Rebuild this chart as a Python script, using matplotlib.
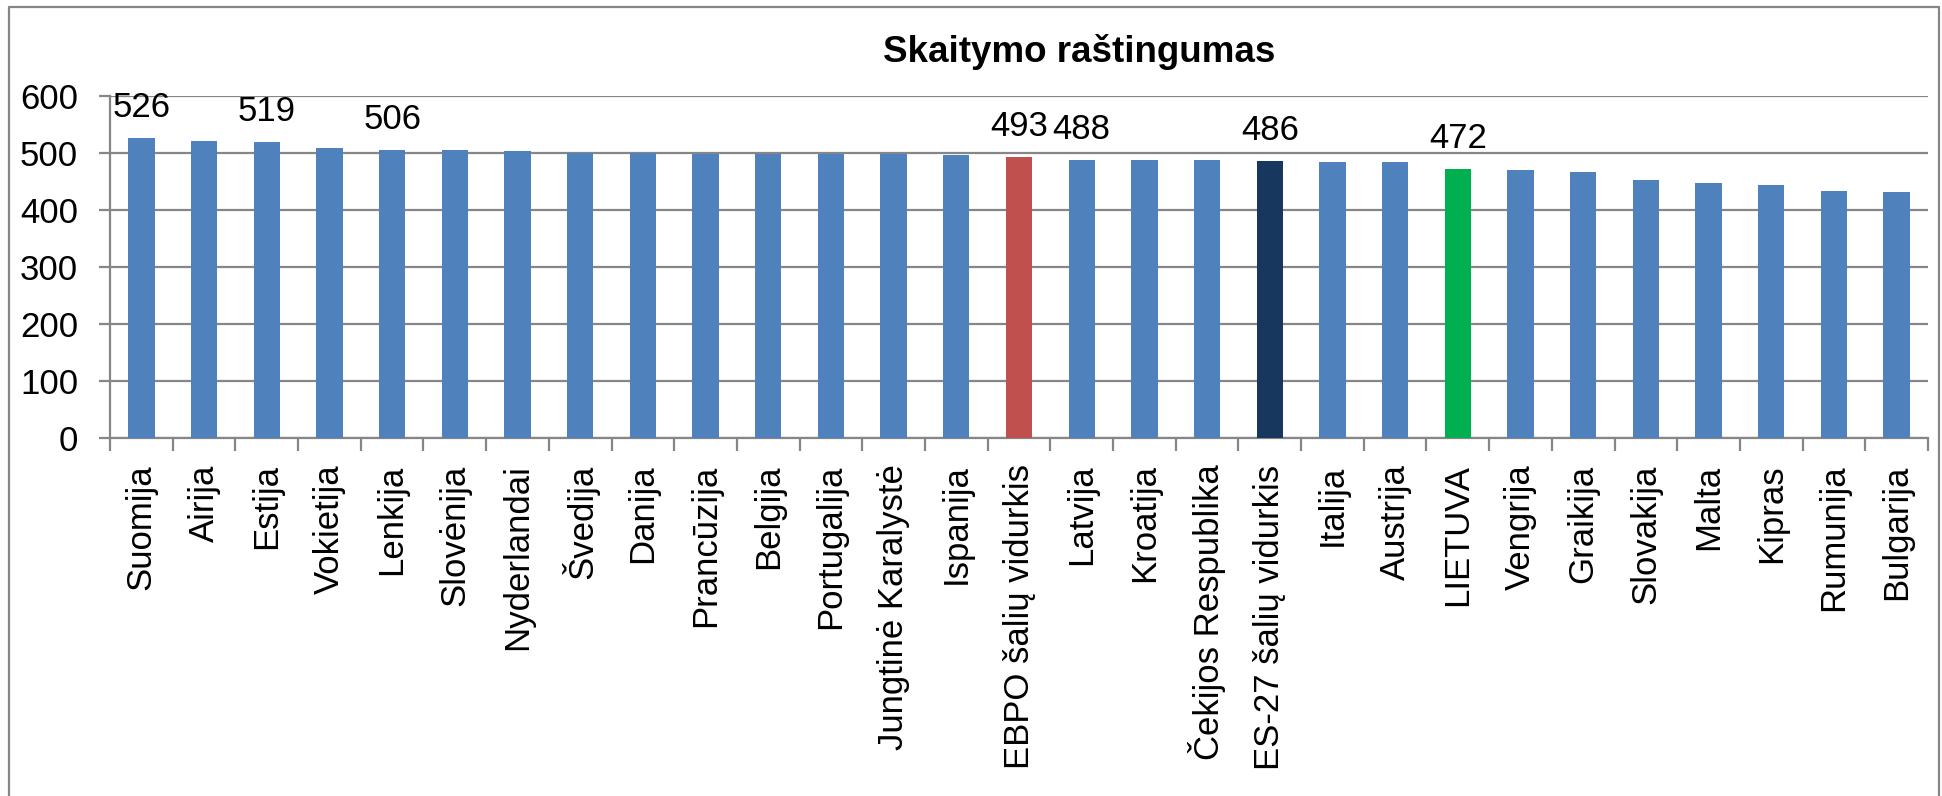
import numpy as np
import matplotlib
matplotlib.use("Agg")
import matplotlib.pyplot as plt
from matplotlib.lines import Line2D

plt.rcParams['font.family'] = ['Liberation Sans', 'DejaVu Sans']

# data
countries = ["Suomija", "Airija", "Estija", "Vokietija", "Lenkija", "Slovėnija",
             "Nyderlandai", "Švedija", "Danija", "Prancūzija", "Belgija", "Portugalija",
             "Jungtinė Karalystė", "Ispanija", "EBPO šalių vidurkis", "Latvija", "Kroatija",
             "Čekijos Respublika", "ES-27 šalių vidurkis", "Italija", "Austrija", "LIETUVA",
             "Vengrija", "Graikija", "Slovakija", "Malta", "Kipras", "Rumunija", "Bulgarija"]
scores = [526, 521, 519, 509, 506, 505, 503, 500, 500, 499, 499, 498, 498, 496,
          493, 488, 487, 487, 486, 485, 485, 472, 470, 467, 453, 447, 443, 434, 432]
labelled = ["Suomija", "Estija", "Lenkija", "EBPO šalių vidurkis", "Latvija",
            "ES-27 šalių vidurkis", "LIETUVA"]
highlight = {"EBPO šalių vidurkis": "#C0504D",
             "ES-27 šalių vidurkis": "#17375E",
             "LIETUVA": "#00B050"}

grey = "#868686"
colors = [highlight.get(c, "#4F81BD") for c in countries]

fig = plt.figure(figsize=(19.42, 7.96), dpi=100)
W, H = 1942, 796
ax = fig.add_axes([110 / W, 1 - 438 / H, (1928 - 110) / W, (438 - 96) / H])

x = np.arange(len(countries))
ax.bar(x, scores, width=0.42, color=colors, zorder=3)

# value labels only on a few bars
for i, (c, v) in enumerate(zip(countries, scores)):
    if c in labelled:
        ax.annotate(str(v), (i, v), xytext=(0, 10), textcoords="offset points",
                    ha="center", va="bottom", fontsize=25, zorder=4)

ax.set_xlim(-0.5, len(countries) - 0.5)
ax.set_ylim(0, 600)
ax.set_yticks(range(0, 601, 100))
ax.yaxis.grid(True, color=grey, linewidth=1.6, zorder=0)
ax.set_axisbelow(True)

ax.set_xticks(x)
ax.set_xticklabels(countries, rotation=90, fontsize=25, va="top")
ax.set_xticks(np.arange(-0.5, len(countries), 1), minor=True)
ax.tick_params(axis="x", which="major", length=0, pad=19)
ax.tick_params(axis="x", which="minor", length=9, width=1.6, color=grey)
ax.tick_params(axis="y", length=8, width=1.6, color=grey, pad=15, labelsize=25)

for s in ["top", "right"]:
    ax.spines[s].set_visible(False)
for s in ["left", "bottom"]:
    ax.spines[s].set_color(grey)
    ax.spines[s].set_linewidth(1.6)

fig.text(1079 / W, 1 - 62 / H, "Skaitymo raštingumas", ha="center", va="baseline",
         fontsize=26.5, fontweight="bold")

# outer frame (open at the bottom, as in the source)
frame_x = [9 / W, 9 / W, 1939 / W, 1939 / W]
frame_y = [0, 1 - 7 / H, 1 - 7 / H, 0]
fig.add_artist(Line2D(frame_x, frame_y, color=grey, linewidth=1.6,
                      transform=fig.transFigure))

fig.savefig("out.png", dpi=100)
